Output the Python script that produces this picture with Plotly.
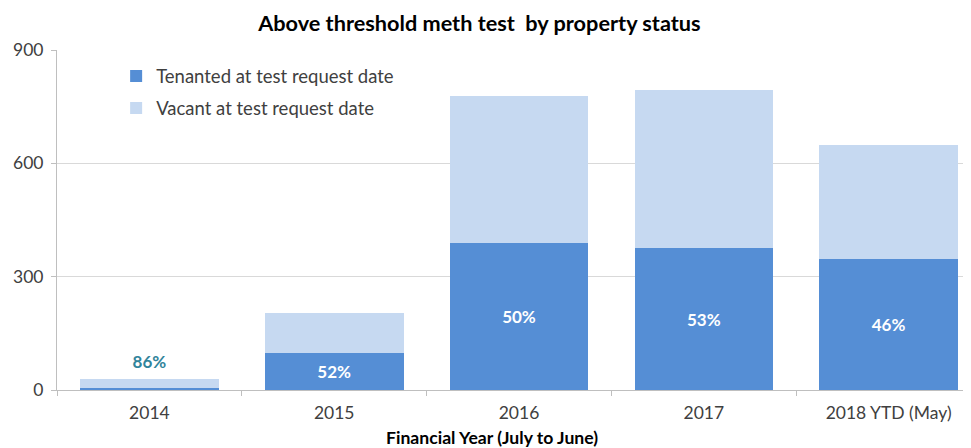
import plotly.graph_objects as go

# Above threshold meth tests by property status
years = ["2014", "2015", "2016", "2017", "2018 YTD (May)"]
tenanted = [4, 97, 390, 375, 347]
vacant = [24, 106, 388, 420, 301]
vacant_share = ["86%", "52%", "50%", "53%", "46%"]

TENANTED_COLOR = "#558ED5"
VACANT_COLOR = "#C6D9F1"
FONT = "Lato, 'Open Sans', sans-serif"

# 2014 bar is too short, so its label sits above the stack instead of inside
inside_text = [""] + vacant_share[1:]

fig = go.Figure()
fig.add_trace(go.Bar(
    x=years, y=tenanted, name="Tenanted at test request date",
    legendgroup="t",
    marker=dict(color=TENANTED_COLOR, line=dict(width=0)),
    text=inside_text, textposition="inside", insidetextanchor="middle",
    textfont=dict(color="white", size=17, family=FONT, weight="bold"),
    textangle=0,
))
fig.add_trace(go.Bar(
    x=years, y=vacant, name="Vacant at test request date",
    legendgroup="v",
    marker=dict(color=VACANT_COLOR, line=dict(width=0)),
))
fig.add_trace(go.Scatter(
    x=years[:1], y=[tenanted[0] + vacant[0]],
    mode="markers+text", text=vacant_share[:1], textposition="top center",
    marker=dict(size=10, opacity=0),
    textfont=dict(color="#31849B", size=17, family=FONT, weight="bold"),
    showlegend=False, hoverinfo="skip", cliponaxis=False,
))

# x-axis title sits left of the plot centre in the original, so it is an annotation
fig.add_annotation(
    text="<b>Financial Year (July to June)</b>",
    xref="paper", yref="paper", x=0.471, y=0,
    xanchor="center", yanchor="middle", yshift=-47,
    showarrow=False, font=dict(size=17.6, color="#000000", family=FONT),
)

# the page body adds an 8px margin; the plot area runs slightly past the right edge
fig.update_layout(
    barmode="stack",
    bargap=0.25,
    width=974, height=440,
    margin=dict(l=49, r=1, t=42, b=58),
    paper_bgcolor="white", plot_bgcolor="white",
    font=dict(family=FONT, size=17, color="#404040"),
    title=dict(
        text="<b>Above threshold meth test&nbsp; by property status</b>",
        x=0.484, xanchor="center", y=0.966, yanchor="middle",
        font=dict(size=21.7, color="#000000", family=FONT),
    ),
    legend=dict(
        x=0.064, y=0.978, xanchor="left", yanchor="top",
        traceorder="grouped", tracegroupgap=5,
        font=dict(size=18.5, color="#404040"),
        bgcolor="rgba(0,0,0,0)", itemwidth=30,
    ),
    showlegend=True,
)

fig.update_xaxes(
    type="category",
    showline=True, linecolor="#BFBFBF", linewidth=1,
    ticks="outside", tickson="boundaries", ticklen=5, tickcolor="#BFBFBF",
    tickfont=dict(size=17.5, color="#404040"), ticklabelstandoff=7,
)
fig.update_yaxes(
    range=[0, 900], tickvals=[0, 300, 600, 900],
    showgrid=True, gridcolor="#D9D9D9", gridwidth=1,
    showline=True, linecolor="#BFBFBF", linewidth=1,
    ticks="outside", ticklen=5, tickcolor="#BFBFBF",
    tickfont=dict(size=17.5, color="#404040"), ticklabelstandoff=4,
    zeroline=False,
)

fig.write_html("out.html")
